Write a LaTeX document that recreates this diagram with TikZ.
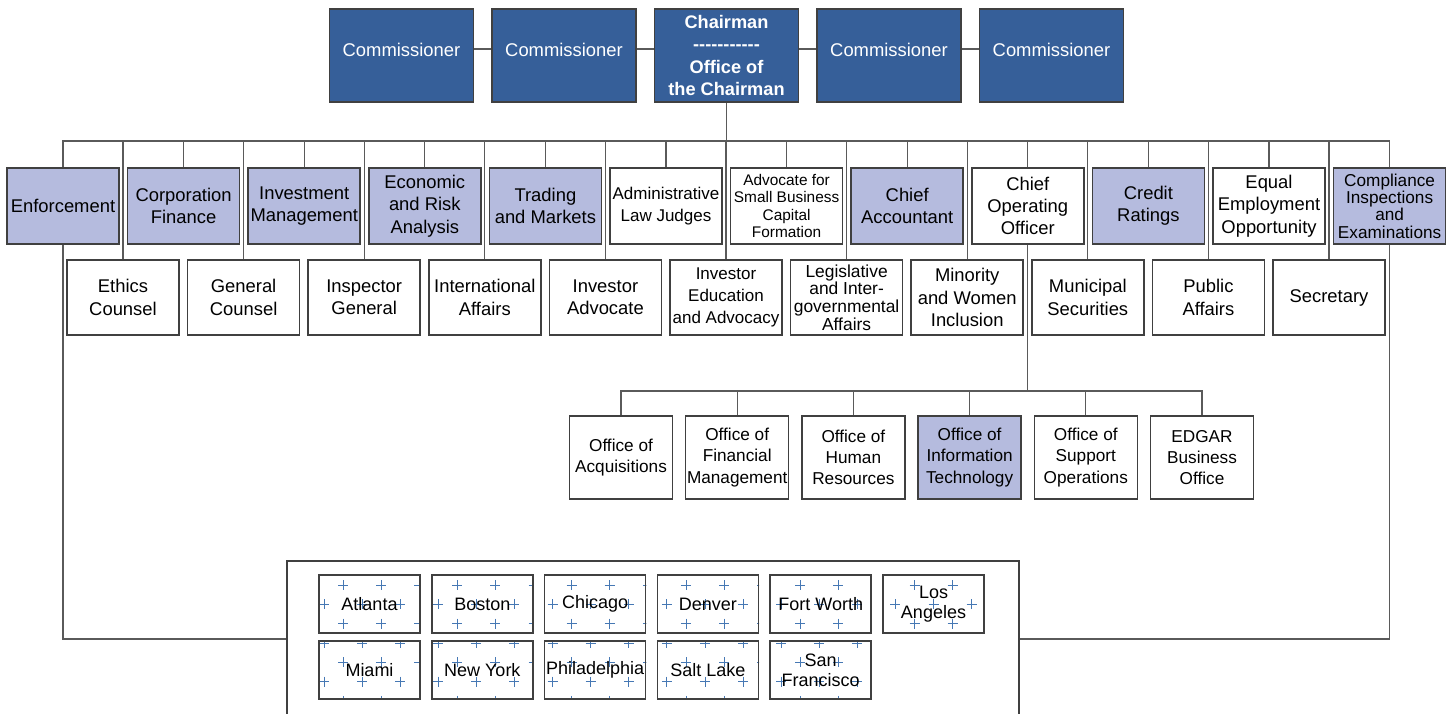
\documentclass[tikz,border=0pt]{standalone}
\usepackage{fontspec}
\setmainfont{Liberation Sans}
\usetikzlibrary{calc,math,backgrounds}

\definecolor{secblue}{RGB}{54,95,153}
\definecolor{divfill}{RGB}{181,187,222}
\definecolor{boxline}{RGB}{64,64,64}
\definecolor{linegray}{RGB}{90,90,90}
\definecolor{plusblue}{RGB}{70,120,180}

\newcommand{\hyph}{\mbox{-}}
\newcommand{\dashrow}{\hyph\hyph\hyph\hyph\hyph\hyph\hyph\hyph\hyph\hyph\hyph}

\tikzset{
  orgbox/.style={draw=boxline, line width=0.75pt, align=center, inner sep=1pt,
    font=\fontsize{9.2}{11.2}\selectfont},
  topbox/.style={orgbox, fill=secblue, text=white, minimum width=72pt, minimum height=46.5pt},
  upbox/.style={orgbox, minimum width=56pt, minimum height=38pt},
  lowbox/.style={orgbox, minimum width=56pt, minimum height=37.5pt},
  subbox/.style={orgbox, inner xsep=0.3pt, minimum width=51.5pt, minimum height=41.5pt,
    font=\fontsize{8.6}{10.6}\selectfont},
  citybox/.style={draw=boxline, line width=0.75pt, align=center, inner sep=0.5pt,
    minimum width=50.5pt, minimum height=29pt, font=\fontsize{9}{10}\selectfont},
  lav/.style={fill=divfill},
  wht/.style={fill=white},
  whtsmall/.style={wht, font=\fontsize{8.5}{10.9}\selectfont},
  whttight/.style={wht, font=\fontsize{8.7}{8.85}\selectfont},
  whttiny/.style={wht, font=\fontsize{7.7}{8.7}\selectfont},
  lavtight/.style={lav, font=\fontsize{8.6}{8.7}\selectfont},
  wire/.style={draw=linegray, line width=0.6pt},
  plusmark/.style={draw=plusblue, line width=0.4pt}
}

\begin{document}
\begin{tikzpicture}[x=0.5pt,y=-0.5pt]
  \tikzmath{
    real \colstep, \substep, \citystep;
    \colstep = 120.6;
    \substep = 116.2;
    \citystep = 112.8;
  }
  \useasboundingbox (0,0) rectangle (1456,713);

  \foreach \k in {0,1,3,4}
    \node[topbox, text depth=6pt] (com\k) at ({401.5+162.5*\k},55.5) {Commissioner};
  \node[topbox, font=\fontsize{9.1}{11.2}\selectfont\bfseries] (chair) at (726.5,55.5)
    {Chairman\\\dashrow\\Office of\\the Chairman};
  \coordinate (topline) at (0,49);
  \draw[wire] (com0.east |- topline) -- (com1.west |- topline)
    (com1.east |- topline) -- (chair.west |- topline)
    (chair.east |- topline) -- (com3.west |- topline)
    (com3.east |- topline) -- (com4.west |- topline);

  \foreach[count=\i from 0] \n/\s/\t in {enf/lav/Enforcement, corpfin/lav/{Corporation\\Finance},
      invmgmt/lav/{Investment\\Management}, dera/lav/{Economic\\and Risk\\Analysis},
      tm/lav/{Trading\\and Markets}, alj/whtsmall/{Administrative\\Law Judges},
      smallbiz/whttiny/{Advocate for\\Small Business\\Capital\\Formation},
      oca/lav/{Chief\\Accountant}, coo/wht/{Chief\\Operating\\Officer},
      ocr/lav/{Credit\\Ratings}, eeo/wht/{Equal\\Employment\\Opportunity},
      ocie/lavtight/{Compliance\\Inspections\\and\\Examinations}}
    \node[upbox,\s] (\n) at ({63+\colstep*\i},206) {\t};

  \foreach[count=\i from 0] \n/\s/\t in {ethics/wht/{Ethics\\Counsel}, ogc/wht/{General\\Counsel},
      oig/wht/{Inspector\\General}, oia/wht/{International\\Affairs},
      oiad/wht/{Investor\\Advocate}, oiea/whtsmall/{Investor\\Education\\and Advocacy},
      ola/whttight/{Legislative\\and Inter-\\governmental\\Affairs},
      omwi/wht/{Minority\\and Women\\Inclusion}, oms/wht/{Municipal\\Securities},
      opa/wht/{Public\\Affairs}, osec/wht/Secretary}
    \node[lowbox,\s] (\n) at ({123+\colstep*\i},297.5) {\t};

  \foreach[count=\i from 0] \n/\s/\t in {oa/wht/{Office of\\Acquisitions},
      ofm/wht/{Office of\\Financial\\Management}, ohr/wht/{Office of\\Human\\Resources},
      oit/lav/{Office of\\Information\\Technology}, oso/wht/{Office of\\Support\\Operations},
      edgar/wht/{EDGAR\\Business\\Office}}
    \node[subbox,\s] (\n) at ({621+\substep*\i},457.5) {\t};

  \node[draw=boxline, line width=0.75pt, minimum width=366pt, minimum height=100pt] (regions) at (653,661) {};
  \foreach[count=\i from 0] \n/\t in {atl/Atlanta, bos/Boston, chi/Chicago, den/Denver,
      ftw/Fort Worth, la/{Los\\Angeles}}
    \node[citybox] (\n) at ({369.5+\citystep*\i},604) {\t};
  \foreach[count=\i from 0] \n/\t in {mia/Miami, ny/New York, phi/Philadelphia,
      slc/Salt Lake, sf/{San\\Francisco}}
    \node[citybox] (\n) at ({369.5+\citystep*\i},670) {\t};

  \begin{scope}[on background layer]
    \clip \foreach \n in {atl,bos,chi,den,ftw,la,mia,ny,phi,slc,sf} {(\n.south west) rectangle (\n.north east)};
    \foreach \r in {0,...,6}
      \foreach \c in {-1,...,18} {
        \coordinate (p) at ({343+38.1*\c-19.05*mod(\r,2)},{585+19.3*\r});
        \draw[plusmark] (p) +(-5,0) -- +(5,0) +(0,-5) -- +(0,5);
      }
  \end{scope}

  \coordinate (bus) at (0,141);
  \coordinate (subbus) at (0,391);
  \coordinate (regjoin) at (0,639);

  \draw[wire] (chair.south) -- (chair.south |- bus);
  \draw[wire] (enf.north) |- (ocie.north |- bus) -- (ocie.north);
  \foreach \n in {corpfin,invmgmt,dera,tm,alj,smallbiz,oca,coo,ocr,eeo,
      ethics,ogc,oig,oia,oiad,oiea,ola,omwi,oms,opa,osec}
    \draw[wire] (\n.north) -- (\n.north |- bus);
  \draw[wire] (coo.south) -- (coo.south |- subbus);
  \draw[wire] (oa.north) |- (edgar.north |- subbus) -- (edgar.north);
  \foreach \n in {ofm,ohr,oit,oso}
    \draw[wire] (\n.north) -- (\n.north |- subbus);
  \draw[wire] (enf.south) |- (regions.west |- regjoin);
  \draw[wire] (ocie.south) |- (regions.east |- regjoin);
\end{tikzpicture}
\end{document}
